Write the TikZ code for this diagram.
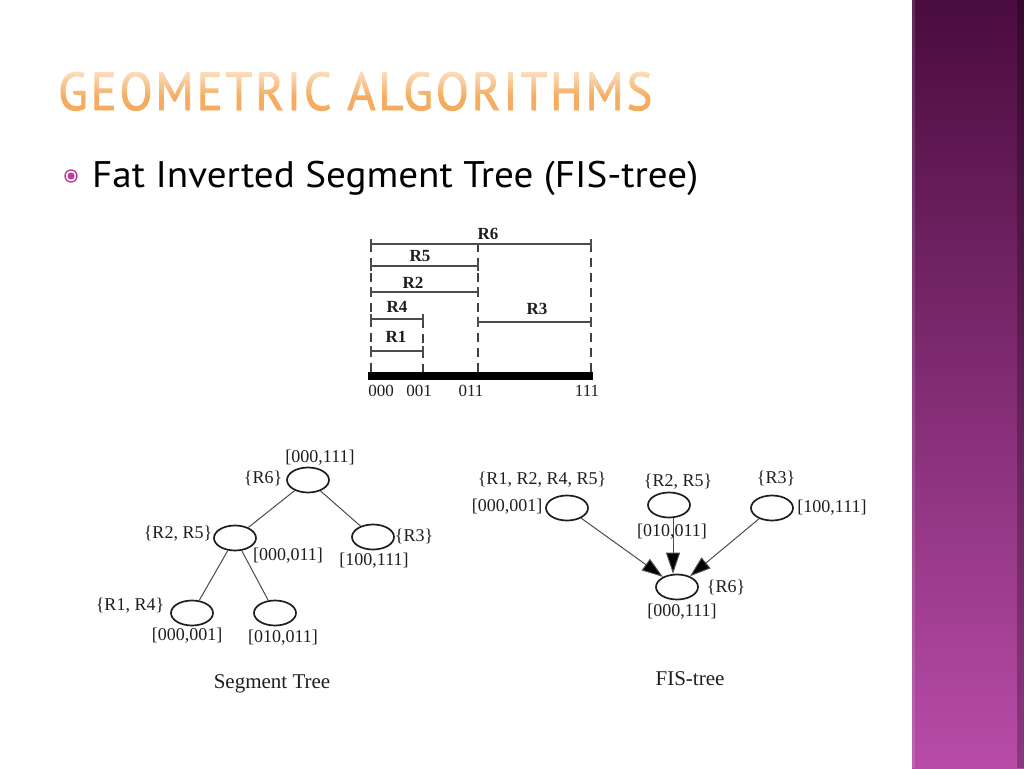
\documentclass[tikz,border=0pt]{standalone}
\usepackage{fontspec}
\setmainfont{Liberation Serif}
\newfontfamily\sansf{PT Sans}
\newfontfamily\titlef[FakeBold=1.6,LetterSpace=6]{PT Sans}
\usetikzlibrary{shapes.geometric,arrows.meta,fadings}
\definecolor{titlecol}{RGB}{245,172,95}
\definecolor{bulcol}{RGB}{190,64,150}
\definecolor{bartop}{RGB}{74,12,62}
\definecolor{barmid}{RGB}{122,42,108}
\definecolor{barbot}{RGB}{184,76,168}
\definecolor{ink}{RGB}{30,30,30}
\begin{document}
\begin{tikzpicture}[x=1pt,y=-1pt,
  tn/.style={draw=ink, line width=1.7pt, ellipse, minimum width=42pt, minimum height=25pt, inner sep=0pt},
  lbl/.style={font=\fontsize{18}{18}\selectfont, inner sep=0pt, text=ink},
  blbl/.style={font=\fontsize{17}{17}\selectfont\bfseries, inner sep=0pt, text=ink},
  albl/.style={font=\fontsize{17}{17}\selectfont, inner sep=0pt, text=ink},
  captxt/.style={font=\fontsize{21}{21}\selectfont, inner sep=0pt, text=ink},
  seg/.style={draw=black!70, line width=1.1pt},
  vdash/.style={draw=black!75, line width=1.1pt, dash pattern=on 9pt off 6pt},
  edge/.style={draw=black!70, line width=1pt},
  arr/.style={draw=black!70, line width=1pt, -{Triangle[length=21pt,width=14pt,fill=black]}}
]
\useasboundingbox (0,0) rectangle (1024,768);
\fill[white] (0,0) rectangle (1024,768);
% purple side bar
\shade[top color=bartop, middle color=barmid, bottom color=barbot] (912,0) rectangle (1024,768);
\fill[white, opacity=0.12] (912,0) rectangle (915,768);
\fill[black, opacity=0.25] (1017,0) rectangle (1024,768);
% title
\node[anchor=base west, inner sep=0pt, text=titlecol] (title) at (58,110)
  {\resizebox{594pt}{38pt}{\titlef GEOMETRIC ALGORITHMS}};
\fill[white, opacity=0.65, path fading=south] (56,70) rectangle (656,97);
% bullet
\node[circle, draw=bulcol, line width=1.4pt, minimum size=12pt, inner sep=0pt] (bul) at (71,176) {};
\fill[bulcol] (bul.center) circle (3.6pt);
\node[anchor=base west, inner sep=0pt, text=black] (sub) at (92,187)
  {\resizebox{606pt}{\height}{\fontsize{37}{40}\selectfont\sansf Fat Inverted Segment Tree (FIS-tree)}};
% segment diagram
\draw[vdash] (371,243) -- (371,373);
\draw[vdash] (423,319) -- (423,373);
\draw[vdash] (478,243) -- (478,373);
\draw[vdash] (591,243) -- (591,373);
\foreach \y/\a/\b in {244/371/591, 266/371/478, 292/371/478, 319/371/423, 351/371/423, 322/478/591}{
  \draw[seg] (\a,\y) -- (\b,\y);
  \draw[seg] (\a,\y-5) -- (\a,\y+5);
  \draw[seg] (\b,\y-5) -- (\b,\y+5);
}
\node[blbl] (lr6) at (488,234) {R6};
\node[blbl] (lr5) at (420,256) {R5};
\node[blbl] (lr2) at (413,283) {R2};
\node[blbl] (lr4) at (397,307) {R4};
\node[blbl] (lr1) at (396,337) {R1};
\node[blbl] (lr3) at (537,309) {R3};
\fill[black] (368,372) rectangle (593,380);
\node[albl] (x0) at (381,391) {000};
\node[albl] (x1) at (419,391) {001};
\node[albl] (x2) at (471,391) {011};
\node[albl] (x3) at (587,391) {111};
% segment tree
\node[tn] (r) at (308,480) {};
\node[tn] (a) at (235,538) {};
\node[tn] (b) at (373,537) {};
\node[tn] (c) at (192,613) {};
\node[tn] (d) at (275,613) {};
\draw[edge] (r) -- (a);
\draw[edge] (r) -- (b);
\draw[edge] (a) -- (c);
\draw[edge] (a) -- (d);
\node[lbl] at (320,458) {[000,111]};
\node[lbl] at (263,478) {\{R6\}};
\node[lbl] at (178,534) {\{R2, R5\}};
\node[lbl] at (288,556) {[000,011]};
\node[lbl] at (414,536) {\{R3\}};
\node[lbl] at (374,561) {[100,111]};
\node[lbl] at (130,606) {\{R1, R4\}};
\node[lbl] at (187,636) {[000,001]};
\node[lbl] at (283,638) {[010,011]};
\node[captxt] at (272,684) {Segment Tree};
% FIS tree
\node[tn] (fa) at (567,508) {};
\node[tn] (fb) at (669,505) {};
\node[tn] (fc) at (772,508) {};
\node[tn] (fd) at (677,587) {};
\draw[arr] (fa) -- (fd);
\draw[arr] ([xshift=4pt]fb.south) -- ([xshift=-4pt]fd.north);
\draw[arr] (fc) -- (fd);
\node[lbl] at (542,480) {\{R1, R2, R4, R5\}};
\node[lbl] at (507,507) {[000,001]};
\node[lbl] at (678,482) {\{R2, R5\}};
\node[lbl] at (672,532) {[010,011]};
\node[lbl] at (776,478) {\{R3\}};
\node[lbl] at (832,508) {[100,111]};
\node[lbl] at (726,587) {\{R6\}};
\node[lbl] at (682,612) {[000,111]};
\node[captxt] at (690,679) {FIS-tree};
\end{tikzpicture}
\end{document}
